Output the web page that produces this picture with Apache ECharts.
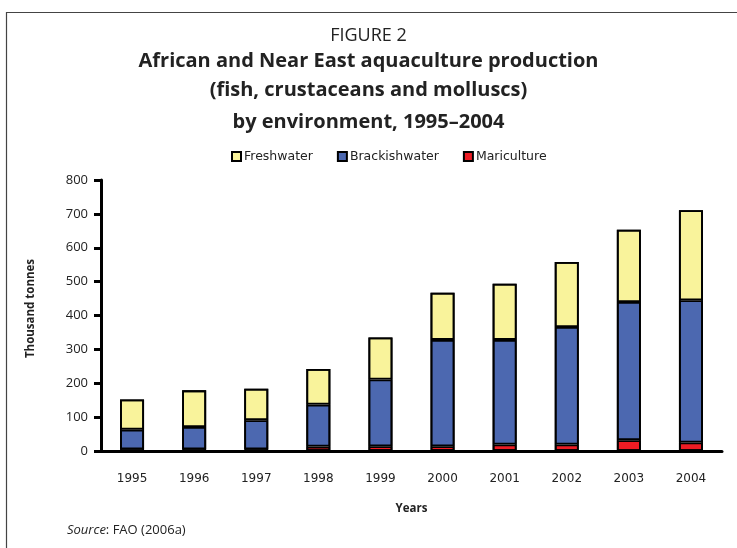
<!DOCTYPE html>
<html>
<head>
<meta charset="utf-8">
<script src="https://cdn.jsdelivr.net/npm/echarts@6/dist/echarts.min.js"></script>
<style>
  html, body { margin: 0; padding: 0; background: #fff; }
  #chart { width: 737px; height: 548px; }
</style>
</head>
<body>
<div id="chart"></div>
<script>
var years = ['1995', '1996', '1997', '1998', '1999', '2000', '2001', '2002', '2003', '2004'];
// thousand tonnes
var mariculture = [5, 5, 5, 13, 14, 14, 19, 19, 32, 25];
var brackishwater = [58, 66, 86, 124, 197, 314, 309, 347, 408, 420];
var freshwater = [89, 108, 93, 105, 124, 139, 166, 192, 213, 266];
var yTicks = [0, 100, 200, 300, 400, 500, 600, 700, 800];

// totals only used for the outer outline of each stacked bar
var totals = years.map(function (y, i) {
  return mariculture[i] + brackishwater[i] + freshwater[i];
});

var chart = echarts.init(document.getElementById('chart'));
var font = 'Open Sans';
var wide = 'DejaVu Sans';
var barStyle = function (c) {
  return { color: c, borderColor: '#000', borderWidth: 1.8 };
};

var option = {
  backgroundColor: '#fff',
  animation: false,
  textStyle: { fontFamily: font },
  title: [
    { text: 'FIGURE 2', left: 'center', top: 22,
      textStyle: { fontSize: 18, fontWeight: 'normal', color: '#222', fontFamily: font } },
    { text: 'African and Near East aquaculture production\n(fish, crustaceans and molluscs)',
      left: 'center', top: 42,
      textStyle: { fontSize: 20, fontWeight: 'bold', color: '#222', lineHeight: 29, fontFamily: font } },
    { text: 'by environment, 1995\u20132004', left: 'center', top: 107,
      textStyle: { fontSize: 20, fontWeight: 'bold', color: '#222', fontFamily: font } },
    { text: '{i|Source}: FAO (2006a)', left: 62, top: 519,
      textStyle: { fontSize: 13, fontWeight: 'normal', color: '#222', fontFamily: font,
        rich: { i: { fontStyle: 'italic', fontSize: 13, fontFamily: font, color: '#222' } } } }
  ],
  legend: {
    top: 145, left: 226,
    data: ['Freshwater', 'Brackishwater', 'Mariculture'],
    icon: 'rect', itemWidth: 9, itemHeight: 9, itemGap: 24,
    itemStyle: { borderColor: '#000', borderWidth: 2 },
    textStyle: { fontSize: 12.5, color: '#222', fontFamily: wide, padding: [0, 0, 0, -2] }
  },
  graphic: [
    { type: 'rect', shape: { x: 6.5, y: 12.5, width: 800, height: 600 },
      style: { fill: 'none', stroke: '#444', lineWidth: 1.2 }, silent: true }
  ],
  grid: { left: 101, right: 15, top: 180, bottom: 97 },
  xAxis: {
    type: 'category', data: years,
    name: 'Years', nameLocation: 'middle', nameGap: 52,
    nameTextStyle: { fontSize: 11.5, fontWeight: 'bold', color: '#222' },
    axisLine: { lineStyle: { color: '#000', width: 3 } },
    axisTick: { length: 9, lineStyle: { color: '#000', width: 3 } },
    axisLabel: { fontSize: 12, color: '#222', margin: 22, fontFamily: wide }
  },
  yAxis: {
    type: 'value', min: 0, max: 800, interval: 100,
    name: 'Thousand tonnes', nameLocation: 'middle', nameGap: 64,
    nameTextStyle: { fontSize: 11.5, fontWeight: 'bold', color: '#222', padding: [0, 0, 0, 14] },
    splitLine: { show: false },
    axisLine: { show: true, lineStyle: { color: '#000', width: 3 } },
    axisTick: { show: true, length: 7, lineStyle: { color: '#000', width: 3 } },
    axisLabel: { fontSize: 13, color: '#222', margin: 13,
      formatter: function (v) { return yTicks.indexOf(v) >= 0 ? String(v) : ''; } }
  },
  series: [
    { name: 'Mariculture', type: 'bar', stack: 'env', barWidth: 24,
      itemStyle: barStyle('#ed1c24'), data: mariculture },
    { name: 'Brackishwater', type: 'bar', stack: 'env', barWidth: 24,
      itemStyle: barStyle('#4c68b0'), data: brackishwater },
    { name: 'Freshwater', type: 'bar', stack: 'env', barWidth: 24,
      itemStyle: barStyle('#f9f39b'), data: freshwater },
    { name: 'outline', type: 'bar', barWidth: 24, barGap: '-100%', z: 3, silent: true,
      itemStyle: { color: 'rgba(0,0,0,0)', borderColor: '#000', borderWidth: 1.8 },
      data: totals }
  ]
};
chart.setOption(option);
window.onresize = function () { chart.resize(); };
</script>
</body>
</html>
